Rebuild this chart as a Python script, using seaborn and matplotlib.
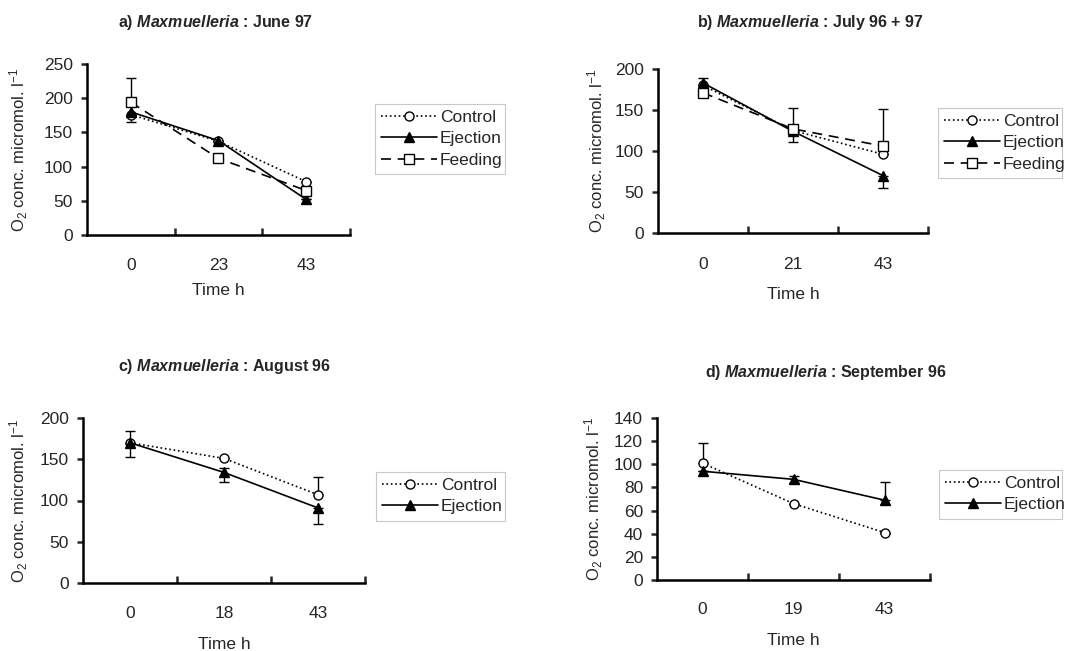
import matplotlib
matplotlib.use("Agg")
import matplotlib.pyplot as plt
import seaborn as sns
import numpy as np

sns.set_theme(style="ticks")
plt.rcParams['font.family'] = ['Liberation Sans', 'DejaVu Sans']
plt.rcParams['mathtext.fontset'] = 'custom'
plt.rcParams['mathtext.rm'] = 'Liberation Sans'
plt.rcParams['mathtext.it'] = 'Liberation Sans:italic'
plt.rcParams['mathtext.bf'] = 'Liberation Sans:bold'
plt.rcParams['mathtext.bfit'] = 'Liberation Sans:bold:italic'

# ---------------- data ----------------
titles = ["a) $\\mathbfit{Maxmuelleria}$ : June 97",
          "b) $\\mathbfit{Maxmuelleria}$ : July 96 + 97",
          "c) $\\mathbfit{Maxmuelleria}$ : August 96",
          "d) $\\mathbfit{Maxmuelleria}$ : September 96"]

times_a = ["0", "23", "43"]
times_b = ["0", "21", "43"]
times_c = ["0", "18", "43"]
times_d = ["0", "19", "43"]

# panel a
ctrl_a = [176, 137, 78]
ejec_a = [180, 138, 52]
feed_a = [194, 112, 65]
ctrl_a_lo, ctrl_a_hi = [0, 0, 0], [0, 0, 0]
ejec_a_lo, ejec_a_hi = [15, 0, 0], [15, 0, 0]
feed_a_lo, feed_a_hi = [0, 0, 0], [36, 0, 0]

# panel b
ctrl_b = [180, 125, 96]
ejec_b = [183, 124, 70]
feed_b = [171, 127, 106]
ctrl_b_lo, ctrl_b_hi = [0, 0, 0], [0, 0, 0]
ejec_b_lo, ejec_b_hi = [6, 13, 15], [6, 0, 0]
feed_b_lo, feed_b_hi = [0, 0, 0], [0, 25, 45]

# panel c
ctrl_c = [170, 151, 107]
ejec_c = [170, 134, 91]
ctrl_c_lo, ctrl_c_hi = [0, 0, 0], [14, 0, 22]
ejec_c_lo, ejec_c_hi = [17, 11, 19], [0, 5, 0]

# panel d
ctrl_d = [101, 66, 41]
ejec_d = [94, 87, 69]
ctrl_d_lo, ctrl_d_hi = [0, 0, 0], [17, 0, 0]
ejec_d_lo, ejec_d_hi = [0, 3, 0], [0, 3, 16]

yticks_a = [0, 50, 100, 150, 200, 250]
yticks_b = [0, 50, 100, 150, 200]
yticks_c = [0, 50, 100, 150, 200]
yticks_d = [0, 20, 40, 60, 80, 100, 120, 140]

styles = {
    "Control": dict(linestyle=":", marker="o", markerfacecolor="white"),
    "Ejection": dict(linestyle="-", marker="^", markerfacecolor="black"),
    "Feeding": dict(linestyle=(0, (6, 4)), marker="s", markerfacecolor="white"),
}

W, H = 1079, 651
fig = plt.figure(figsize=(W / 100, H / 100), dpi=100)


def rect(l, r, t, b):
    return [l / W, 1 - b / H, (r - l) / W, (b - t) / H]


panels = [
    dict(rect=rect(87, 350, 64, 235), times=times_a, yticks=yticks_a,
         series=[("Control", ctrl_a, ctrl_a_lo, ctrl_a_hi),
                 ("Ejection", ejec_a, ejec_a_lo, ejec_a_hi),
                 ("Feeding", feed_a, feed_a_lo, feed_a_hi)],
         title=titles[0], tpos=(216, 22), leg=(375, 104, 505, 183),
         ylab_x=19, tpad=16.5, lpad=7),
    dict(rect=rect(658, 928, 69, 233), times=times_b, yticks=yticks_b,
         series=[("Control", ctrl_b, ctrl_b_lo, ctrl_b_hi),
                 ("Ejection", ejec_b, ejec_b_lo, ejec_b_hi),
                 ("Feeding", feed_b, feed_b_lo, feed_b_hi)],
         title=titles[1], tpos=(810, 23), leg=(938, 108, 1062, 187),
         ylab_x=597, tpad=17, lpad=11),
    dict(rect=rect(83, 365, 418, 583), times=times_c, yticks=yticks_c,
         series=[("Control", ctrl_c, ctrl_c_lo, ctrl_c_hi),
                 ("Ejection", ejec_c, ejec_c_lo, ejec_c_hi)],
         title=titles[2], tpos=(225, 367), leg=(376, 472, 505, 524),
         ylab_x=19, tpad=16.5, lpad=11.5),
    dict(rect=rect(657, 930, 418, 580), times=times_d, yticks=yticks_d,
         series=[("Control", ctrl_d, ctrl_d_lo, ctrl_d_hi),
                 ("Ejection", ejec_d, ejec_d_lo, ejec_d_hi)],
         title=titles[3], tpos=(826, 373), leg=(939, 470, 1062, 523),
         ylab_x=594, tpad=15.5, lpad=12),
]

for p in panels:
    ax = fig.add_axes(p["rect"])
    x = np.arange(len(p["times"]))
    for name, vals, lo, hi in p["series"]:
        st = styles[name]
        ax.errorbar(x, vals, yerr=[lo, hi], fmt="none", ecolor="black",
                    elinewidth=1.0, capsize=3.5, capthick=1.0, zorder=2)
        sns.lineplot(x=x, y=vals, ax=ax, color="black", label=name,
                     linestyle=st["linestyle"], marker=st["marker"],
                     markerfacecolor=st["markerfacecolor"],
                     markeredgecolor="black", markeredgewidth=1.0,
                     markersize=6.5, linewidth=1.2, sort=False, zorder=3)
    ax.set_xlim(-0.5, len(x) - 0.5)
    ax.set_ylim(p["yticks"][0], p["yticks"][-1])
    ax.set_yticks(p["yticks"])
    ax.set_xticks(x)
    ax.set_xticklabels(p["times"])
    ax.set_xticks(np.arange(len(x)) + 0.5, minor=True)
    ax.tick_params(axis="x", which="major", length=0, pad=p["tpad"],
                   labelsize=12.5)
    ax.tick_params(axis="x", which="minor", direction="in", length=5, width=1.8)
    ax.tick_params(axis="y", which="major", direction="out", length=4,
                   width=1.8, labelsize=12.5, pad=6)
    for s in ["top", "right"]:
        ax.spines[s].set_visible(False)
    for s in ["left", "bottom"]:
        ax.spines[s].set_linewidth(1.8)
        ax.spines[s].set_color("black")
    ax.set_xlabel("Time h", fontsize=12.5, labelpad=p["lpad"])
    ax.set_ylabel("")
    fig.text(p["ylab_x"] / W, ((p["rect"][1]) + p["rect"][3] / 2),
             "O$_2$ conc. micromol. l$^{-1}$", rotation=90, ha="center",
             va="center", fontsize=12)
    fig.text(p["tpos"][0] / W, 1 - p["tpos"][1] / H, p["title"],
             ha="center", va="center", fontsize=11.5, fontweight="bold")
    l, t, r, b = p["leg"]
    leg = ax.legend(loc="upper left",
                    bbox_to_anchor=(l / W, 1 - b / H, (r - l) / W, (b - t) / H),
                    bbox_transform=fig.transFigure, mode="expand",
                    frameon=True, fancybox=False, fontsize=12.5,
                    handlelength=3.2, handletextpad=0.2, borderpad=0.35,
                    labelspacing=0.35, borderaxespad=0)
    leg.get_frame().set_edgecolor("#bbbbbb")
    leg.get_frame().set_linewidth(0.8)

fig.savefig("out.png", dpi=100)
